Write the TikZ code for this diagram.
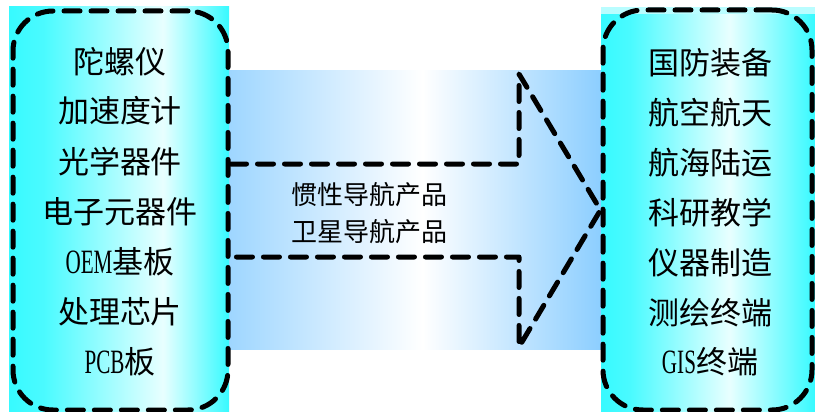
\documentclass[tikz,border=0pt]{standalone}
\usepackage{fontspec}
\newfontfamily\cjk{Noto Sans CJK SC}
\newfontfamily\latin[FakeStretch=0.62,Scale=1.1]{Liberation Serif}
\definecolor{cyanA}{RGB}{55,250,255}
\definecolor{cyanL}{RGB}{232,255,255}
\definecolor{bandL}{RGB}{158,214,255}
\definecolor{bandR}{RGB}{140,206,255}
\pgfdeclarehorizontalshading{leftshade}{100bp}{color(0bp)=(cyanA); color(25bp)=(cyanA); color(33bp)=(cyanA!90!white); color(60bp)=(cyanL); color(75bp)=(cyanA); color(100bp)=(cyanA)}
\pgfdeclarehorizontalshading{rightshade}{100bp}{color(0bp)=(cyanA); color(25bp)=(cyanA); color(32bp)=(cyanA!90!white); color(55bp)=(cyanL); color(75bp)=(cyanA); color(100bp)=(cyanA)}
\pgfdeclarehorizontalshading{bandshade}{100bp}{color(0bp)=(bandL); color(25bp)=(bandL); color(51bp)=(white); color(75bp)=(bandR); color(100bp)=(bandR)}
\tikzset{
  dashline/.style={draw=black, line width=5pt, line cap=round, line join=round, dash pattern=on 16pt off 11pt},
  boxframe/.style={dashline, rounded corners=40pt, inner sep=0pt},
  itemtext/.style={font=\cjk\fontsize{31}{31}\selectfont, inner sep=0pt, anchor=center},
  midtext/.style={font=\cjk\fontsize{26}{26}\selectfont, inner sep=0pt, anchor=center}
}
\begin{document}
\begin{tikzpicture}[x=1pt,y=-1pt]
\useasboundingbox (0,0) rectangle (815,412);
% backgrounds
\shade[shading=bandshade] (229,71) rectangle (601,349);
\shade[shading=leftshade] (9,7) rectangle (229,412);
\fill[cyanA!35!white] (601,7) rectangle (815,15);
\shade[shading=rightshade] (601,15) rectangle (815,412);
% frames
\node[boxframe, minimum width=215pt, minimum height=399pt] (L) at (120.5,210.5) {};
\node[boxframe, minimum width=209pt, minimum height=400pt] (R) at (707.5,210) {};
% arrow
\coordinate (s1) at (519,164);
\coordinate (h1) at (519,74);
\coordinate (h2) at (519,347);
\coordinate (s2) at (519,257);
\draw[dashline] (L.east |- s1) -- (s1) -- (h1) -- (R.west) -- (h2) -- (s2) -- (L.east |- s2);
% left texts
\node[itemtext] (l1) at (120,62) {陀螺仪};
\node[itemtext] (l2) at (120,111) {加速度计};
\node[itemtext] (l3) at (120,162) {光学器件};
\node[itemtext] (l4) at (120,212) {电子元器件};
\node[itemtext] (l5) at (120,262) {{\latin OEM}基板};
\node[itemtext] (l6) at (120,312) {处理芯片};
\node[itemtext] (l7) at (120,362) {{\latin PCB}板};
% middle texts
\node[midtext] (m1) at (369,195) {惯性导航产品};
\node[midtext] (m2) at (369,232) {卫星导航产品};
% right texts
\node[itemtext] (r1) at (710,63) {国防装备};
\node[itemtext] (r2) at (710,113) {航空航天};
\node[itemtext] (r3) at (710,163) {航海陆运};
\node[itemtext] (r4) at (710,213) {科研教学};
\node[itemtext] (r5) at (710,263) {仪器制造};
\node[itemtext] (r6) at (710,313) {测绘终端};
\node[itemtext] (r7) at (710,362) {{\latin GIS}终端};
\end{tikzpicture}
\end{document}
